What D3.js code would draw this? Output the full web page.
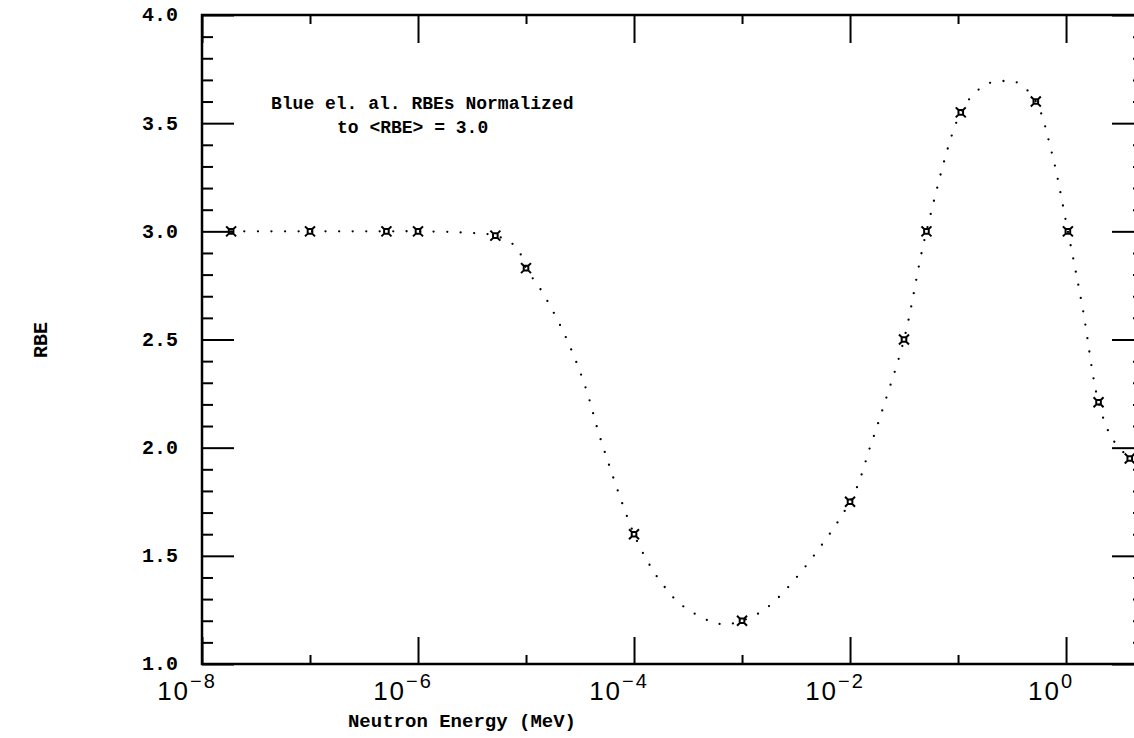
<!DOCTYPE html>
<html><head><meta charset="utf-8">
<script src="https://cdn.jsdelivr.net/npm/d3@7"></script>
<style>body{margin:0;background:#fff}svg{display:block}</style>
</head><body><svg id="c" width="1134" height="738"></svg>
<script>
// ---- data ----
const markerE   = [1.86e-8, 1e-7, 5.1e-7, 1e-6, 5.2e-6, 1e-5, 1e-4, 1e-3, 1e-2, 3.16e-2, 5.1e-2, 0.106, 0.525, 1.04, 2.0, 3.89];
const markerRBE = [3.0, 3.0, 3.0, 3.0, 2.98, 2.83, 1.60, 1.20, 1.75, 2.50, 3.0, 3.55, 3.60, 3.0, 2.21, 1.95];

const curveE   = [1.86e-8, 1e-7, 5.1e-7, 1e-6, 2.5e-6, 5.2e-6, 7.6e-6, 9.1e-6, 1e-5, 1.41e-5, 2.34e-5, 3.55e-5, 4.9e-5, 1e-4, 1.35e-4, 1.86e-4, 2.8e-4, 6.2e-4, 1e-3, 1.9e-3, 1e-2, 1.55e-2, 2.04e-2, 3.16e-2, 5.1e-2, 0.106, 0.151, 0.197, 0.271, 0.359, 0.525, 0.741, 1.04, 1.43, 2.0, 2.69, 3.89];
const curveRBE = [3.0, 3.0, 3.0, 3.0, 2.995, 2.98, 2.94, 2.886, 2.83, 2.72, 2.51, 2.28, 2.04, 1.60, 1.47, 1.365, 1.27, 1.185, 1.20, 1.28, 1.75, 2.01, 2.19, 2.50, 3.0, 3.55, 3.65, 3.686, 3.695, 3.686, 3.60, 3.36, 3.0, 2.64, 2.21, 2.04, 1.95];

const xMajor = [1e-8, 1e-6, 1e-4, 1e-2, 1];
const xMajorExp = ["\u22128", "\u22126", "\u22124", "\u22122", "0"];
const xMinor = [1e-7, 1e-5, 1e-3, 1e-1];
const yMajor = [1.0, 1.5, 2.0, 2.5, 3.0, 3.5, 4.0];
const yMajorLabels = ["1.0", "1.5", "2.0", "2.5", "3.0", "3.5", "4.0"];
const yMinor = d3.range(11, 40).map(v => v / 10).filter(v => Math.abs(v * 2 - Math.round(v * 2)) > 1e-6);

const xTitle = "Neutron Energy (MeV)";
const yTitle = "RBE";
const note = ["Blue el. al. RBEs Normalized", "to <RBE> = 3.0"];

// ---- layout ----
const L = 202, R = 1144, T = 15, B = 664;
const svg = d3.select("#c");
const x = d3.scaleLog().domain([1e-8, 5.27]).range([L, R]);
const y = d3.scaleLinear().domain([1, 4]).range([B, T]);
const mono = "'Liberation Mono', 'DejaVu Sans Mono', monospace";
const sans = "'Liberation Sans', Arial, sans-serif";

function axisG(axis, tx, ty) {
  const g = svg.append("g").attr("transform", `translate(${tx},${ty})`).call(axis);
  g.select(".domain").remove();
  g.selectAll("line").attr("stroke", "#000").attr("stroke-width", 2);
  g.selectAll("text").remove();
  return g;
}
axisG(d3.axisBottom(x).tickValues(xMajor).tickSize(-27).tickSizeOuter(0), 0, B);
axisG(d3.axisBottom(x).tickValues(xMinor).tickSize(-9).tickSizeOuter(0), 0, B);
axisG(d3.axisTop(x).tickValues(xMajor).tickSize(-28).tickSizeOuter(0), 0, T);
axisG(d3.axisTop(x).tickValues(xMinor).tickSize(-9).tickSizeOuter(0), 0, T);
axisG(d3.axisLeft(y).tickValues(yMajor).tickSize(-32).tickSizeOuter(0), L, 0);
axisG(d3.axisLeft(y).tickValues(yMinor).tickSize(-11).tickSizeOuter(0), L, 0);
axisG(d3.axisRight(y).tickValues(yMajor).tickSize(-32).tickSizeOuter(0), R, 0);
axisG(d3.axisRight(y).tickValues(yMinor).tickSize(-11).tickSizeOuter(0), R, 0);

svg.append("rect").attr("x", L).attr("y", T).attr("width", R - L).attr("height", B - T)
  .attr("fill", "none").attr("stroke", "#000").attr("stroke-width", 2.5);

svg.append("g").selectAll("text").data(yMajor).join("text")
  .attr("x", 178).attr("y", d => y(d)).attr("dy", "0.32em")
  .attr("text-anchor", "end").attr("font-family", mono).attr("font-weight", "bold").attr("font-size", 20)
  .text((d, i) => yMajorLabels[i]);

const xl = svg.append("g").selectAll("text").data(xMajor).join("text")
  .attr("x", d => x(d) - 15).attr("y", 700)
  .attr("text-anchor", "middle").attr("font-family", sans).attr("font-size", 26)
  .attr("letter-spacing", 2);
xl.append("tspan").text("10");
xl.append("tspan").attr("dy", -12).attr("font-size", 20).text((d, i) => xMajorExp[i]);

svg.append("text").attr("x", 462).attr("y", 727).attr("text-anchor", "middle")
  .attr("font-family", mono).attr("font-weight", "bold").attr("font-size", 19).text(xTitle);
svg.append("text").attr("transform", "translate(47,340) rotate(-90)").attr("text-anchor", "middle")
  .attr("font-family", mono).attr("font-weight", "bold").attr("font-size", 20).text(yTitle);

svg.append("text").attr("x", 271).attr("y", 109).attr("font-family", mono).attr("font-weight", "bold").attr("font-size", 18).text(note[0]);
svg.append("text").attr("x", 337).attr("y", 133).attr("font-family", mono).attr("font-weight", "bold").attr("font-size", 18).text(note[1]);

const curveData = curveE.map((e, i) => ({e, r: curveRBE[i]}));
svg.append("path").datum(curveData)
  .attr("d", d3.line().x(d => x(d.e)).y(d => y(d.r)).curve(d3.curveCatmullRom.alpha(0.5)))
  .attr("fill", "none").attr("stroke", "#000").attr("stroke-width", 2.3)
  .attr("stroke-linecap", "round").attr("stroke-dasharray", "0 13.5");

const mk = "M-2.3,-2.3H2.3V2.3H-2.3Z M-2.3,-2.3L-5,-5 M2.3,-2.3L5,-5 M2.3,2.3L5,5 M-2.3,2.3L-5,5";
svg.append("g").selectAll("path").data(markerE.map((e, i) => ({e, r: markerRBE[i]}))).join("path")
  .attr("transform", d => `translate(${x(d.e)},${y(d.r)})`)
  .attr("d", mk).attr("fill", "none").attr("stroke", "#000").attr("stroke-width", 2);
</script></body></html>
